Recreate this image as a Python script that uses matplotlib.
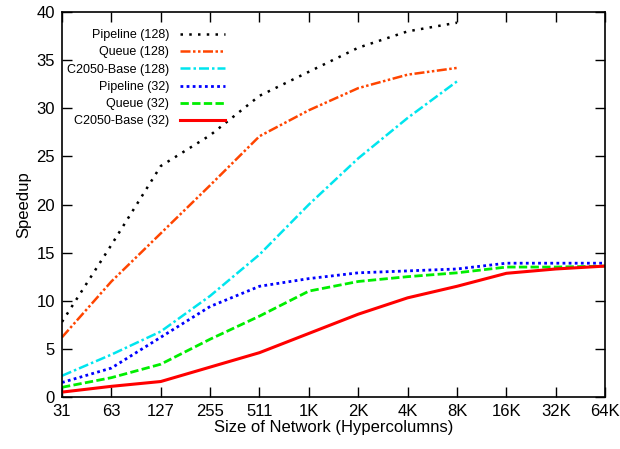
import numpy as np
import matplotlib
matplotlib.use("Agg")
import matplotlib.pyplot as plt

plt.rcParams['font.family'] = ['Liberation Sans', 'DejaVu Sans']

# network sizes (hypercolumns)
sizes = ["31", "63", "127", "255", "511", "1K", "2K", "4K", "8K", "16K", "32K", "64K"]

# speedup values
pipeline_128 = [7.8, 15.8, 24.0, 27.2, 31.3, 33.8, 36.3, 38.0, 38.9]
queue_128 = [6.2, 12.0, 17.0, 22.0, 27.1, 29.8, 32.1, 33.5, 34.2]
base_128 = [2.2, 4.4, 6.8, 10.5, 14.8, 20.0, 24.8, 29.0, 32.8]
pipeline_32 = [1.5, 3.0, 6.2, 9.4, 11.5, 12.3, 12.9, 13.1, 13.3, 13.9, 13.9, 13.9]
queue_32 = [1.0, 2.0, 3.4, 6.0, 8.4, 11.0, 12.0, 12.5, 12.9, 13.5, 13.5, 13.6]
base_32 = [0.5, 1.1, 1.6, 3.1, 4.6, 6.6, 8.6, 10.3, 11.5, 12.85, 13.3, 13.6]

fig = plt.figure(figsize=(6.2, 4.49), dpi=100)
ax = fig.add_axes([0.1, 0.116, 0.876, 0.857])

x = np.arange(len(sizes))
ax.plot(x[:len(pipeline_128)], pipeline_128, color="black", lw=1.8,
        linestyle=(0, (1, 2.5)), label="Pipeline (128)")
ax.plot(x[:len(queue_128)], queue_128, color="#ff4500", lw=1.8,
        linestyle=(0, (4, 1, 1, 1, 1, 1)), label="Queue (128)")
ax.plot(x[:len(base_128)], base_128, color="#00e5ee", lw=1.8,
        linestyle=(0, (4, 1.2, 1, 1.2)), label="C2050-Base (128)")
ax.plot(x, pipeline_32, color="#0000ff", lw=2.0,
        linestyle=(0, (1, 1.2)), label="Pipeline (32)")
ax.plot(x, queue_32, color="#00ee00", lw=2.0,
        linestyle=(0, (3, 1.2)), label="Queue (32)")
ax.plot(x, base_32, color="#ff0000", lw=2.2, label="C2050-Base (32)")

ax.set_xlim(0, len(sizes) - 1)
ax.set_ylim(0, 40)
ax.set_xticks(x)
ax.set_xticklabels(sizes)
ax.set_yticks(np.arange(0, 41, 5))
ax.tick_params(direction="in", length=7, width=1, top=True, right=True,
               labelsize=12, pad=5)
for s in ax.spines.values():
    s.set_linewidth(1.2)

ax.set_xlabel("Size of Network (Hypercolumns)", fontsize=12, labelpad=1)
ax.set_ylabel("Speedup", fontsize=12, labelpad=4)

leg = ax.legend(loc="upper left", bbox_to_anchor=(-0.005, 0.975), frameon=False,
                markerfirst=False, fontsize=9, handlelength=3.6,
                labelspacing=0.42, handletextpad=0.9, borderaxespad=0.2)

fig.savefig("out.png", dpi=100)
